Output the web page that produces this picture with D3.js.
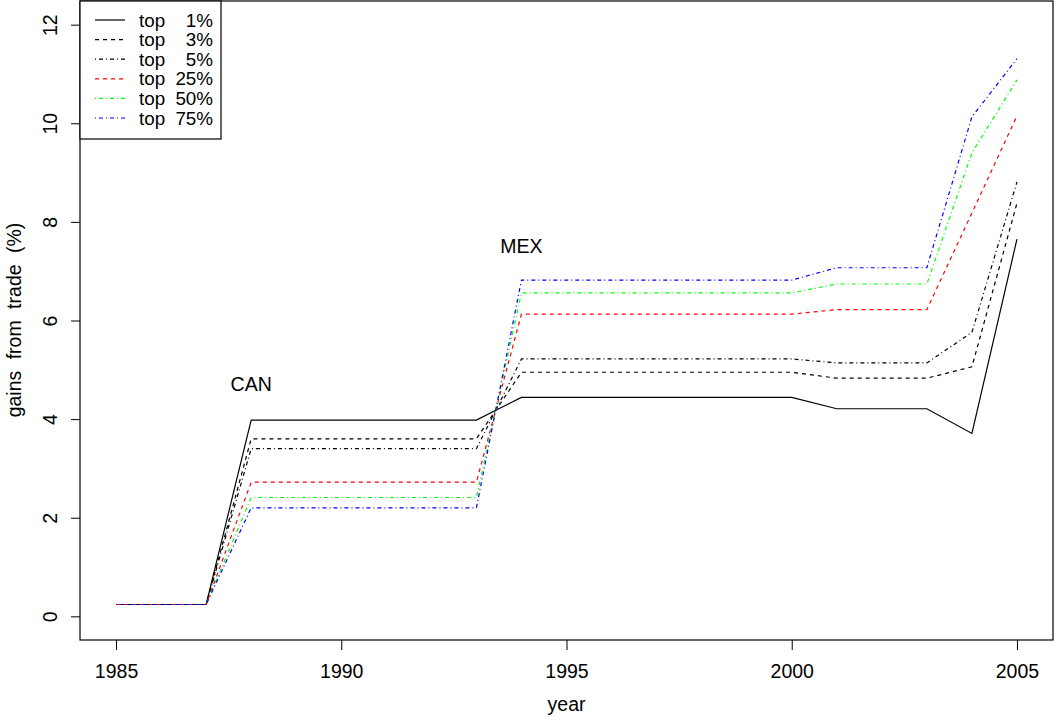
<!DOCTYPE html>
<html>
<head>
<meta charset="utf-8">
<script src="https://cdn.jsdelivr.net/npm/d3@7"></script>
<style>
  body { margin: 0; background: #fff; }
  svg { display: block; font-family: "Liberation Sans", Arial, sans-serif; }
</style>
</head>
<body>
<svg id="chart" width="1056" height="721"></svg>
<script>
// DATA
const years = [1985, 1986, 1987, 1988, 1989, 1990, 1991, 1992, 1993, 1994, 1995, 1996, 1997, 1998, 1999, 2000, 2001, 2002, 2003, 2004, 2005];

const top1  = [0.24, 0.24, 0.24, 3.98, 3.98, 3.98, 3.98, 3.98, 3.98, 4.44, 4.44, 4.44, 4.44, 4.44, 4.44, 4.44, 4.21, 4.21, 4.21, 3.71, 7.65];
const top3  = [0.24, 0.24, 0.24, 3.60, 3.60, 3.60, 3.60, 3.60, 3.60, 4.95, 4.95, 4.95, 4.95, 4.95, 4.95, 4.95, 4.83, 4.83, 4.83, 5.06, 8.38];
const top5  = [0.24, 0.24, 0.24, 3.40, 3.40, 3.40, 3.40, 3.40, 3.40, 5.22, 5.22, 5.22, 5.22, 5.22, 5.22, 5.22, 5.14, 5.14, 5.14, 5.76, 8.81];
const top25 = [0.24, 0.24, 0.24, 2.72, 2.72, 2.72, 2.72, 2.72, 2.72, 6.13, 6.13, 6.13, 6.13, 6.13, 6.13, 6.13, 6.22, 6.22, 6.22, 8.18, 10.15];
const top50 = [0.24, 0.24, 0.24, 2.41, 2.41, 2.41, 2.41, 2.41, 2.41, 6.56, 6.56, 6.56, 6.56, 6.56, 6.56, 6.56, 6.74, 6.74, 6.74, 9.40, 10.88];
const top75 = [0.24, 0.24, 0.24, 2.20, 2.20, 2.20, 2.20, 2.20, 2.20, 6.82, 6.82, 6.82, 6.82, 6.82, 6.82, 6.82, 7.07, 7.07, 7.07, 10.13, 11.31];

const seriesNames = ["top", "top", "top", "top", "top", "top"];
const seriesPct = ["1%", "3%", "5%", "25%", "50%", "75%"];

const xTicks = [1985, 1990, 1995, 2000, 2005];
const yTicks = [0, 2, 4, 6, 8, 10, 12];

const notes = [
  { label: "CAN", year: 1988, value: 4.7 },
  { label: "MEX", year: 1994, value: 7.5 }
];

// styles for each series (R lty 1, 2, 4)
const styles = [
  { color: "#000", dash: null },
  { color: "#000", dash: "4,4" },
  { color: "#000", dash: "1,3,4,3" },
  { color: "#ff0000", dash: "4,4" },
  { color: "#00ff00", dash: "1,3,4,3" },
  { color: "#0000ff", dash: "1,3,4,3" }
];

const allSeries = [top1, top3, top5, top25, top50, top75];

const width = 1056, height = 721;
const plot = { left: 80, right: 1053, top: 1, bottom: 640 };

const svg = d3.select("#chart");

// + SCALES (R style 4% padding)
const xScale = d3.scaleLinear()
  .domain([1984.2, 2005.8])
  .range([plot.left, plot.right]);

const yScale = d3.scaleLinear()
  .domain([-0.48, 12.48])
  .range([plot.bottom, plot.top]);

const fontSize = 19.5;

// + LINES
const lineGen = d3.line()
  .x((d, i) => xScale(years[i]))
  .y(d => yScale(d));

svg.append("g")
  .selectAll("path")
  .data(allSeries)
  .join("path")
  .attr("fill", "none")
  .attr("stroke", (d, i) => styles[i].color)
  .attr("stroke-width", 1.2)
  .attr("stroke-dasharray", (d, i) => styles[i].dash)
  .attr("d", d => lineGen(d));

// + AXES
const xAxis = d3.axisBottom(xScale)
  .tickValues(xTicks)
  .tickSize(10)
  .tickPadding(14)
  .tickFormat(d3.format("d"));

const xAxisGroup = svg.append("g")
  .attr("transform", `translate(0, ${plot.bottom})`)
  .call(xAxis);

xAxisGroup.select(".domain").remove();
xAxisGroup.selectAll("text")
  .attr("font-size", fontSize)
  .attr("font-family", "Liberation Sans, Arial, sans-serif")
  .attr("fill", "#000");

const yAxis = d3.axisLeft(yScale)
  .tickValues(yTicks)
  .tickSize(9)
  .tickPadding(0);

const yAxisGroup = svg.append("g")
  .attr("transform", `translate(${plot.left}, 0)`)
  .call(yAxis);

yAxisGroup.select(".domain").remove();
yAxisGroup.selectAll("text")
  .attr("font-size", fontSize)
  .attr("font-family", "Liberation Sans, Arial, sans-serif")
  .attr("fill", "#000")
  .attr("x", 0)
  .attr("text-anchor", "middle")
  .attr("transform", "translate(-30, 0) rotate(-90)")
  .attr("dy", "0.35em");

// + BOX
svg.append("rect")
  .attr("x", plot.left)
  .attr("y", plot.top)
  .attr("width", plot.right - plot.left)
  .attr("height", plot.bottom - plot.top)
  .attr("fill", "none")
  .attr("stroke", "#000")
  .attr("stroke-width", 1.2);

// AXIS LABELS
svg.append("text")
  .attr("x", (plot.left + plot.right) / 2)
  .attr("y", 711)
  .attr("text-anchor", "middle")
  .attr("font-size", fontSize)
  .text("year");

svg.append("text")
  .attr("transform", "translate(21, 320) rotate(-90)")
  .attr("text-anchor", "middle")
  .attr("font-size", fontSize)
  .attr("word-spacing", "6px")
  .text("gains from trade (%)");

// ANNOTATIONS
svg.append("g")
  .selectAll("text")
  .data(notes)
  .join("text")
  .attr("x", d => xScale(d.year))
  .attr("y", d => yScale(d.value))
  .attr("dy", "0.35em")
  .attr("text-anchor", "middle")
  .attr("font-size", fontSize)
  .text(d => d.label);

// LEGEND
const legend = svg.append("g");

legend.append("rect")
  .attr("x", plot.left)
  .attr("y", plot.top)
  .attr("width", 141)
  .attr("height", 138)
  .attr("fill", "#fff")
  .attr("stroke", "#000")
  .attr("stroke-width", 1.2);

const rowY = i => 20 + i * 19.6;

legend.selectAll(".leg-line")
  .data(styles)
  .join("line")
  .attr("class", "leg-line")
  .attr("x1", 95)
  .attr("x2", 125)
  .attr("y1", (d, i) => rowY(i))
  .attr("y2", (d, i) => rowY(i))
  .attr("stroke", d => d.color)
  .attr("stroke-width", 1.2)
  .attr("stroke-dasharray", d => d.dash);

// one text per row: "top" then the right-aligned percentage
const legText = legend.selectAll(".leg-text")
  .data(seriesPct)
  .join("text")
  .attr("class", "leg-text")
  .attr("y", (d, i) => rowY(i) + 6.5)
  .attr("font-size", 18.8);

legText.append("tspan")
  .attr("x", 139)
  .text((d, i) => seriesNames[i]);

legText.append("tspan")
  .attr("x", 213)
  .attr("text-anchor", "end")
  .text(d => d);
</script>
</body>
</html>
